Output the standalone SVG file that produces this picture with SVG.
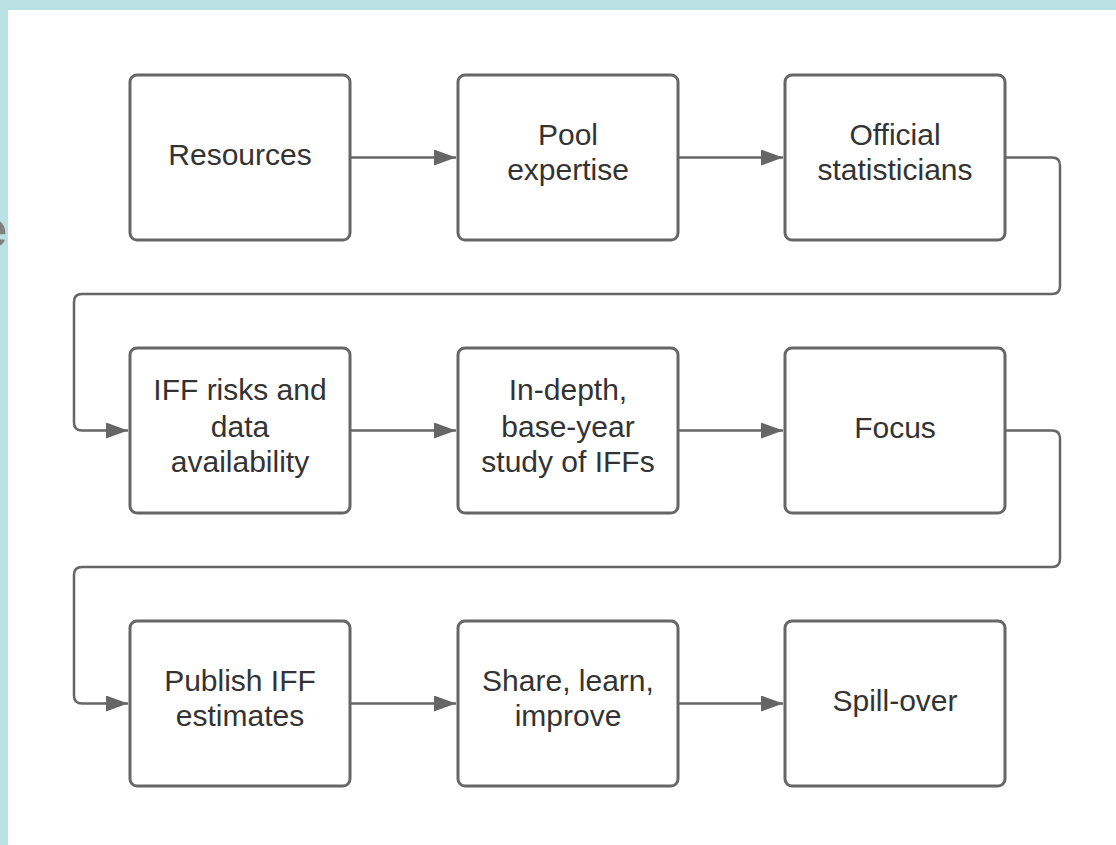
<svg xmlns="http://www.w3.org/2000/svg" width="1116" height="845" viewBox="0 0 1116 845">
<style>
.box{fill:#fff;stroke:#666;stroke-width:3}
.lbl{font-family:"Liberation Sans",Arial,sans-serif;font-size:30px;fill:#333;text-anchor:middle}
.con{fill:none;stroke:#666;stroke-width:2.5}
</style>
<defs>
<marker id="arr" markerUnits="userSpaceOnUse" markerWidth="24" markerHeight="18" refX="22" refY="8" orient="auto">
<path d="M0,0 L22,8 L0,16 Z" fill="#666"/>
</marker>
</defs>
<rect x="0" y="0" width="1116" height="845" fill="#fff"/>
<rect x="0" y="0" width="1116" height="10" fill="#b9e0e3"/>
<rect x="0" y="0" width="8" height="845" fill="#b9e0e3"/>
<text x="7" y="247" font-family="Liberation Sans,Arial,sans-serif" font-size="50" font-weight="bold" fill="#808080" text-anchor="end">e</text>
<g id="connectors">
<path class="con" d="M350,157.5 H456" marker-end="url(#arr)"/>
<path class="con" d="M678,157.5 H783" marker-end="url(#arr)"/>
<path class="con" d="M1005,157.5 H1052 Q1060,157.5 1060,165.5 V286 Q1060,294 1052,294 H82 Q74,294 74,302 V422.5 Q74,430.5 82,430.5 H128" marker-end="url(#arr)"/>
<path class="con" d="M350,430.5 H456" marker-end="url(#arr)"/>
<path class="con" d="M678,430.5 H783" marker-end="url(#arr)"/>
<path class="con" d="M1005,430.5 H1052 Q1060,430.5 1060,438.5 V559 Q1060,567 1052,567 H82 Q74,567 74,575 V695.5 Q74,703.5 82,703.5 H128" marker-end="url(#arr)"/>
<path class="con" d="M350,703.5 H456" marker-end="url(#arr)"/>
<path class="con" d="M678,703.5 H783" marker-end="url(#arr)"/>
</g>
<g id="n1"><rect class="box" x="130" y="75" width="220" height="165" rx="7"/><text class="lbl" x="240" y="165">Resources</text></g>
<g id="n2"><rect class="box" x="458" y="75" width="220" height="165" rx="7"/><text class="lbl" x="568" y="145">Pool</text><text class="lbl" x="568" y="180">expertise</text></g>
<g id="n3"><rect class="box" x="785" y="75" width="220" height="165" rx="7"/><text class="lbl" x="895" y="145">Official</text><text class="lbl" x="895" y="180">statisticians</text></g>
<g id="n4"><rect class="box" x="130" y="348" width="220" height="165" rx="7"/><text class="lbl" x="240" y="400">IFF risks and</text><text class="lbl" x="240" y="436.5">data</text><text class="lbl" x="240" y="472">availability</text></g>
<g id="n5"><rect class="box" x="458" y="348" width="220" height="165" rx="7"/><text class="lbl" x="568" y="400">In-depth,</text><text class="lbl" x="568" y="436.5">base-year</text><text class="lbl" x="568" y="472">study of IFFs</text></g>
<g id="n6"><rect class="box" x="785" y="348" width="220" height="165" rx="7"/><text class="lbl" x="895" y="438">Focus</text></g>
<g id="n7"><rect class="box" x="130" y="621" width="220" height="165" rx="7"/><text class="lbl" x="240" y="691">Publish IFF</text><text class="lbl" x="240" y="726">estimates</text></g>
<g id="n8"><rect class="box" x="458" y="621" width="220" height="165" rx="7"/><text class="lbl" x="568" y="691">Share, learn,</text><text class="lbl" x="568" y="726">improve</text></g>
<g id="n9"><rect class="box" x="785" y="621" width="220" height="165" rx="7"/><text class="lbl" x="895" y="711">Spill-over</text></g>
</svg>
